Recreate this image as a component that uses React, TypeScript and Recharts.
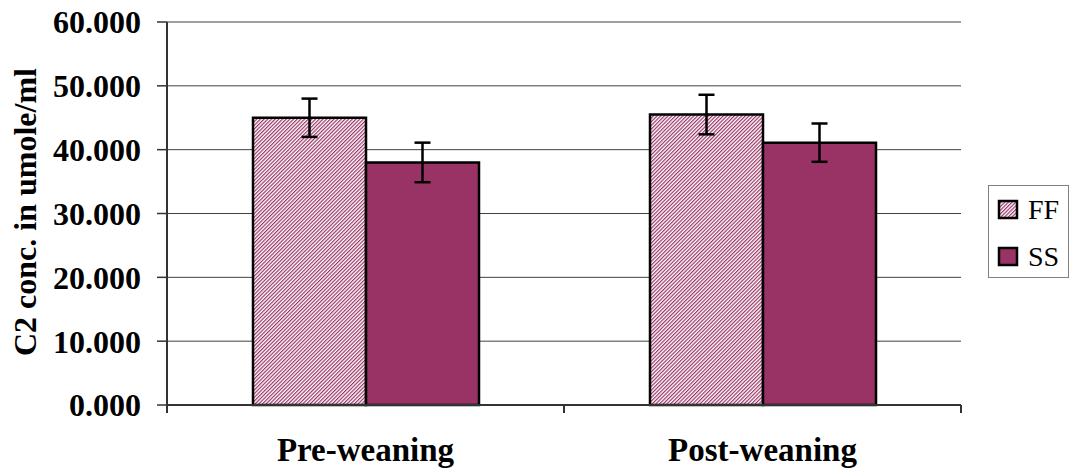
import React from 'react';
import { BarChart, Bar, XAxis, YAxis, CartesianGrid, ErrorBar } from 'recharts';

const categories = ['Pre-weaning', 'Post-weaning'];
const ffValues = [45.0, 45.5];
const ffErrors = [3.0, 3.1];
const ssValues = [38.0, 41.1];
const ssErrors = [3.1, 3.0];
const yTicks = [0, 10, 20, 30, 40, 50, 60];
const seriesNames = ['FF', 'SS'];

const data = categories.map((name, i) => ({
  name,
  FF: ffValues[i],
  ffErr: ffErrors[i],
  SS: ssValues[i],
  ssErr: ssErrors[i],
}));

const MAROON = '#993366';
const FONT = '"Liberation Serif", "Times New Roman", serif';

const HatchDef = ({ id }: { id: string }) => (
  <pattern id={id} width="2.6" height="2.6" patternUnits="userSpaceOnUse" patternTransform="rotate(45)">
    <rect width="2.6" height="2.6" fill="#ffffff" />
    <rect width="1.2" height="2.6" fill={MAROON} />
  </pattern>
);

// category label plus the little separator ticks at band edges
const CategoryTick = (props: any) => {
  const { x, y, payload } = props;
  const half = payload?.offset ?? 0;
  const axisY = y - 33;
  return (
    <g>
      <line x1={x - half} x2={x - half} y1={axisY} y2={axisY + 8} stroke="#333" strokeWidth={2} />
      <line x1={x + half} x2={x + half} y1={axisY} y2={axisY + 8} stroke="#333" strokeWidth={2} />
      <text x={x} y={y} dy="0.71em" textAnchor="middle" fontFamily={FONT} fontWeight="bold" fontSize={33} fill="#000">
        {payload.value}
      </text>
    </g>
  );
};

const YLabel = () => (
  <text
    x={36}
    y={212}
    transform="rotate(-90, 36, 212)"
    textAnchor="middle"
    fontFamily={FONT}
    fontWeight="bold"
    fontSize={32}
    fill="#000"
  >
    C2 conc. in umole/ml
  </text>
);

const Legend = () => (
  <svg width={82} height={94} style={{ position: 'absolute', left: 988, top: 185 }}>
    <defs>
      <HatchDef id="legHatch" />
    </defs>
    <rect x={0.5} y={0.5} width={80} height={92} fill="#fff" stroke="#808080" strokeWidth={1} />
    {seriesNames.map((s, i) => (
      <g key={s}>
        <rect
          x={11}
          y={16 + i * 47}
          width={18}
          height={17}
          fill={i === 0 ? 'url(#legHatch)' : MAROON}
          stroke="#000"
          strokeWidth={2.5}
        />
        <text x={40} y={34 + i * 47} fontFamily={FONT} fontSize={28} fill="#000">
          {s}
        </text>
      </g>
    ))}
  </svg>
);

export default function App() {
  return (
    <div style={{ position: 'absolute', left: 0, top: 0, width: 1073, height: 470, background: '#fff' }}>
      <BarChart
        width={1073}
        height={470}
        data={data}
        margin={{ top: 22, right: 112, bottom: 0, left: 0 }}
        barSize={113}
        barGap={0}
      >
        <defs>
          <HatchDef id="ffHatch" />
        </defs>
        <CartesianGrid vertical={false} stroke="#404040" strokeWidth={1} />
        <XAxis
          dataKey="name"
          height={65}
          tickSize={8}
          tickMargin={25}
          tickLine={false}
          axisLine={{ stroke: '#333', strokeWidth: 2 }}
          tick={<CategoryTick />}
          interval={0}
        />
        <XAxis xAxisId="top" orientation="top" dataKey="name" height={0} tick={false} tickLine={false} axisLine={{ stroke: '#808080', strokeWidth: 2 }} />
        <YAxis
          width={167}
          domain={[0, 60]}
          ticks={yTicks}
          interval={0}
          tickSize={10}
          tickMargin={16}
          tickFormatter={(v: number) => v.toFixed(3)}
          tick={{ fontFamily: FONT, fontWeight: 'bold', fontSize: 32, fill: '#000' }}
          tickLine={{ stroke: '#333', strokeWidth: 1.5 }}
          axisLine={{ stroke: '#333', strokeWidth: 2 }}
          label={{ content: YLabel }}
        />
        <YAxis yAxisId="right" orientation="right" width={0} domain={[0, 60]} tick={false} tickLine={false} axisLine={{ stroke: '#808080', strokeWidth: 2 }} />
        <Bar dataKey="FF" fill="url(#ffHatch)" stroke="#000" strokeWidth={2.5} isAnimationActive={false}>
          <ErrorBar dataKey="ffErr" direction="y" width={8} stroke="#000" strokeWidth={2.5} />
        </Bar>
        <Bar dataKey="SS" fill={MAROON} stroke="#000" strokeWidth={2.5} isAnimationActive={false}>
          <ErrorBar dataKey="ssErr" direction="y" width={8} stroke="#000" strokeWidth={2.5} />
        </Bar>
      </BarChart>
      <Legend />
    </div>
  );
}
